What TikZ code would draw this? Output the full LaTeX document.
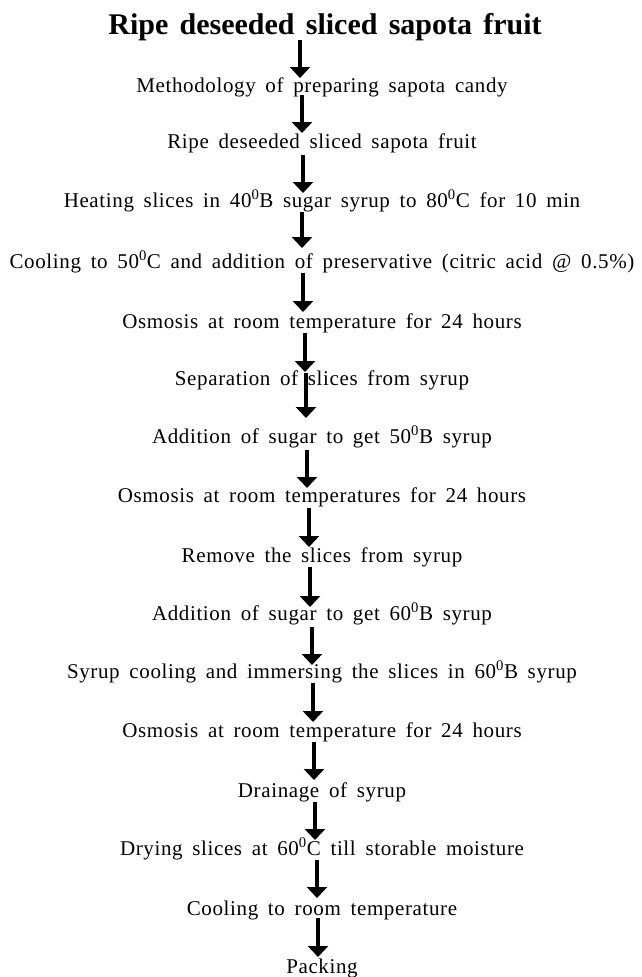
\documentclass[tikz,border=0pt]{standalone}
\usepackage{fontspec}
\setmainfont{Liberation Serif}
\newfontfamily\stepfont{Liberation Serif}[LetterSpace=3,WordSpace=1.65]
\newfontfamily\headfont{Liberation Serif}[WordSpace=1.5]
\usepackage{tikz}
\usetikzlibrary{calc,arrows.meta}

\tikzset{
  steptext/.style={anchor=base, inner sep=0pt, font=\stepfont\fontsize{21}{24}\selectfont},
  headtext/.style={anchor=base, inner sep=0pt, font=\headfont\bfseries\fontsize{30}{34}\selectfont},
  flow/.style={line width=3.5pt, -{Triangle[width=20pt,length=11pt]}}
}

\begin{document}
\begin{tikzpicture}[x=1pt,y=-1pt]
  \useasboundingbox (0,0) rectangle (642,977);

  %% Heading
  \node[headtext] (s1) at (325,34) {Ripe deseeded sliced sapota fruit};

  %% Steps of the process, one per line
  \foreach \n/\y/\txt in {
    2/92/Methodology of preparing sapota candy,
    3/148/Ripe deseeded sliced sapota fruit,
    4/207/Heating slices in 40\textsuperscript{0}B sugar syrup to 80\textsuperscript{0}C for 10 min,
    5/268/Cooling to 50\textsuperscript{0}C and addition of preservative (citric acid @ 0.5\%),
    6/328/Osmosis at room temperature for 24 hours,
    7/385/Separation of slices from syrup,
    8/443/Addition of sugar to get 50\textsuperscript{0}B syrup,
    9/502/Osmosis at room temperatures for 24 hours,
    10/562/Remove the slices from syrup,
    11/620/Addition of sugar to get 60\textsuperscript{0}B syrup,
    12/678/Syrup cooling and immersing the slices in 60\textsuperscript{0}B syrup,
    13/737/Osmosis at room temperature for 24 hours,
    14/797/Drainage of syrup,
    15/855/Drying slices at 60\textsuperscript{0}C till storable moisture,
    16/915/Cooling to room temperature,
    17/973/Packing}
  {
    \node[steptext] (s\n) at (322,\y) {\txt};
  }

  %% Arrows between the steps (from/to/x offset/start/end)
  \foreach \a/\b/\dx/\ys/\ye in {
    1/2/-22/6/-14, 2/3/-20/3/-15, 3/4/-19/7/-14, 4/5/-20/5/-20,
    5/6/-19/5/-16, 6/7/-17/5/-13, 7/8/-16/-12/-25, 8/9/-15/7/-14,
    9/10/-13/6/-15, 10/11/-12/5/-13, 11/12/-10/7/-13, 12/13/-9/5/-15,
    13/14/-8/5/-17, 14/15/-7/5/-15, 15/16/-5/5/-17, 16/17/-4/3/-16}
  {
    \draw[flow] ($(s\a.base -| s\b.base)+(\dx,\ys)$) -- ($(s\b.base)+(\dx,\ye)$);
  }
\end{tikzpicture}
\end{document}
